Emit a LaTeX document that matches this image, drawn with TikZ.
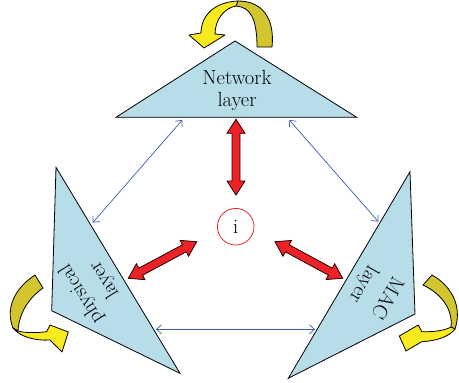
\documentclass[tikz,border=0pt]{standalone}
\usetikzlibrary{calc,arrows.meta}
\definecolor{layerfill}{HTML}{B7DDE8}
\definecolor{linkblue}{HTML}{3A5DAE}
\definecolor{arrowred}{HTML}{EC2227}
\definecolor{ringred}{HTML}{E8262A}
\definecolor{ribbonfront}{HTML}{F7EA1F}
\definecolor{ribbonback}{HTML}{D3C52F}
\tikzset{
  layerbox/.style={fill=layerfill, draw=black, line width=0.8pt, line join=miter},
  layertext/.style={font=\fontsize{20.5}{22}\selectfont, align=center, inner sep=0pt},
  sidetext/.style={font=\fontsize{20.5}{27}\selectfont, align=center, inner sep=0pt},
  link/.style={draw=linkblue, line width=0.7pt,
    {Straight Barb[length=5pt,width=9pt]}-{Straight Barb[length=5pt,width=9pt]}},
  fatarrow/.style={fill=arrowred, draw=black!85!red, line width=0.8pt, line join=miter},
  ribbonfrontstyle/.style={fill=ribbonfront, draw=black, line width=0.8pt, line join=round},
  ribbonbackstyle/.style={fill=ribbonback, draw=black, line width=0.8pt, line join=round},
}
% broad double-headed arrow between two named points
\newcommand\fatlink[2]{%
  \path[fatarrow] (#1)
    -- ($(#1)!14pt!(#2)!9pt!90:(#2)$) -- ($(#1)!14pt!(#2)!4pt!90:(#2)$)
    -- ($(#2)!14pt!(#1)!4pt!-90:(#1)$) -- ($(#2)!14pt!(#1)!9pt!-90:(#1)$)
    -- (#2)
    -- ($(#2)!14pt!(#1)!9pt!90:(#1)$) -- ($(#2)!14pt!(#1)!4pt!90:(#1)$)
    -- ($(#1)!14pt!(#2)!4pt!-90:(#2)$) -- ($(#1)!14pt!(#2)!9pt!-90:(#2)$)
    -- cycle;}
\begin{document}
\begin{tikzpicture}[x=1pt, y=-1pt]
\useasboundingbox (0,0) rectangle (459,383);

% the three layers
\path[layerbox] (235,41) -- (356.7,117.3) -- (116,117.3) -- cycle;
\path[layerbox] (56,167.3) -- (180,373.3) -- (51.7,310.7) -- cycle;
\path[layerbox] (410,171.7) -- (415,314) -- (288.3,378.3) -- cycle;

\node[layertext] (net) at (237,90) {Network\\layer};
\node[sidetext, rotate=122] (phy) at (93,287) {physical\\layer};
\node[sidetext, rotate=-120] (mac) at (375,291) {MAC\\layer};

% centre
\node[circle, draw=ringred, line width=0.8pt, minimum size=36.6pt, inner sep=0pt,
      font=\fontsize{20.5}{22}\selectfont] (ctr) at (235.7,226.7) {i};

% link end points
\coordinate (nl) at (182.3,120);
\coordinate (nr) at (289.3,120);
\coordinate (pt) at (92.7,222.7);
\coordinate (pb) at (156,329.3);
\coordinate (mt) at (378.3,221.7);
\coordinate (mb) at (315,329.3);

\draw[link] (nl) -- (pt);
\draw[link] (nr) -- (mt);
\draw[link] (pb) -- (mb);

% broad arrows towards the centre
\coordinate (rn) at (236,119.3);
\coordinate (rc) at (236,195);
\coordinate (rp) at (128.3,278.3);
\coordinate (rpc) at (196.7,241.7);
\coordinate (rm) at (342.7,278.3);
\coordinate (rmc) at (275,241.7);
\fatlink{rn}{rc}
\fatlink{rp}{rpc}
\fatlink{rm}{rmc}

% curled ribbon above the network layer
\path[ribbonbackstyle] (257,47) -- (272,47) .. controls (275,18) and (262,1) .. (238,1)
  -- (236,6) .. controls (250,7) and (257,18) .. (257,47) -- cycle;
\path[ribbonfrontstyle] (238,1) .. controls (214,2) and (201,16) .. (201,33)
  -- (189,35) -- (204,48) -- (225,35) -- (215,34)
  .. controls (215,20) and (224,8) .. (236,6) -- cycle;

% curled ribbon beside the physical layer
\path[ribbonbackstyle] (35,275) .. controls (15,288) and (5,308) .. (13,328)
  -- (18,331) .. controls (19,312) and (30,297) .. (43,288) -- cycle;
\path[ribbonfrontstyle] (13,328) .. controls (20,337) and (36,341) .. (50,340)
  -- (62,352) -- (68.3,332) -- (50,325) -- (46.7,331.7)
  .. controls (36,333) and (25,333) .. (18,331) -- cycle;

% curled ribbon beside the MAC layer
\path[ribbonbackstyle] (423,285) -- (432,275) .. controls (450,285) and (463,305) .. (455,329)
  -- (451,327) .. controls (453,310) and (442,294) .. (423,285) -- cycle;
\path[ribbonfrontstyle] (455,329) .. controls (450,336) and (437,341) .. (421.7,341.7)
  -- (406,351) -- (399.3,336) -- (418.3,325) -- (421.7,331.7)
  .. controls (432,332) and (444,331) .. (451,327) -- cycle;
\end{tikzpicture}
\end{document}
